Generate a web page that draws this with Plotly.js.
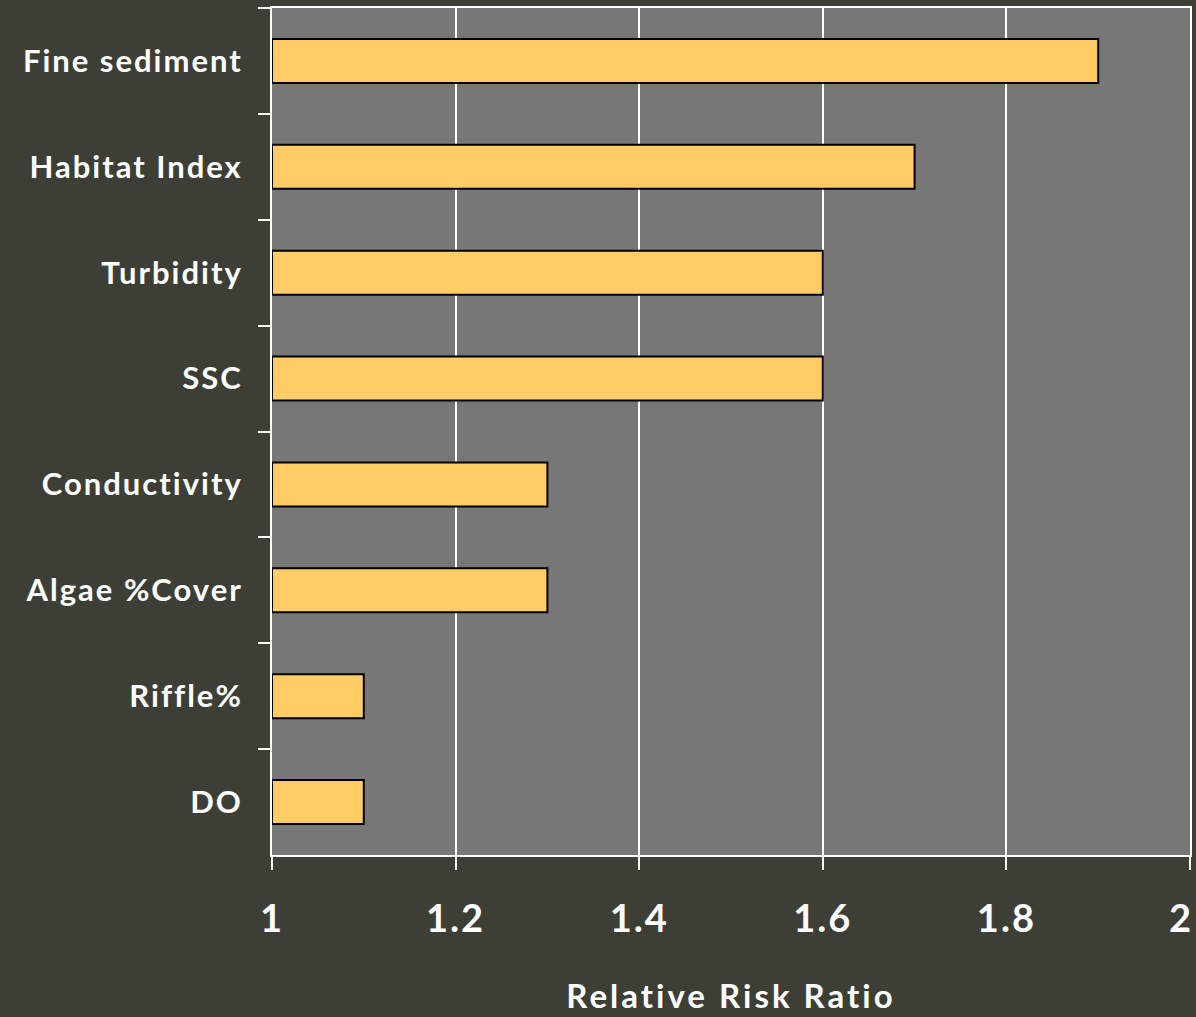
<!DOCTYPE html>
<html>
<head>
<meta charset="utf-8">
<script src="https://cdn.plot.ly/plotly-3.0.1.min.js"></script>
<style>
  html, body { margin: 0; padding: 0; background: #3d3f36; }
  #chart { width: 1196px; height: 1017px; }
  /* wider, airier lettering for the axis text */
  #chart .ytick text { letter-spacing: 2px; }
  #chart .xtick text { letter-spacing: 2px; }
  #chart .xtitle { letter-spacing: 3px; }
  /* pull the last x label in so it stays inside the page */
  #chart .xaxislayer-above .xtick:last-child { transform: translateX(-9px); }
</style>
</head>
<body>
<div id="chart"></div>
<script>
// Stressors, listed top to bottom
const stressors = ["Fine sediment", "Habitat Index", "Turbidity", "SSC",
                   "Conductivity", "Algae %Cover", "Riffle%", "DO"];
// Relative risk ratio for each stressor
const riskRatio = [1.9, 1.7, 1.6, 1.6, 1.3, 1.3, 1.1, 1.1];
// X axis ticks
const xTicks = [1, 1.2, 1.4, 1.6, 1.8, 2];
const xTickText = ["1", "1.2", "1.4", "1.6", "1.8", "2"];

const FONT = "Lato, 'Open Sans', sans-serif";

const trace = {
  type: "bar",
  orientation: "h",
  y: stressors,
  x: riskRatio.map(v => v - 1),
  base: 1,
  width: 0.415,
  marker: { color: "#ffcc66", line: { color: "#000000", width: 2 } },
  hoverinfo: "skip"
};

const layout = {
  width: 1196,
  height: 1017,
  paper_bgcolor: "#3d3f36",
  plot_bgcolor: "#777777",
  margin: { l: 272, r: 6, t: 8, b: 162 },
  showlegend: false,
  bargap: 0,
  xaxis: {
    range: [1, 2],
    tickvals: xTicks,
    ticktext: xTickText,
    showgrid: true,
    gridcolor: "#ffffff",
    gridwidth: 2,
    zeroline: false,
    showline: true,
    linecolor: "#ffffff",
    linewidth: 2,
    mirror: true,
    ticks: "outside",
    ticklen: 13,
    tickwidth: 2,
    tickcolor: "#ffffff",
    ticklabelstandoff: 16,
    ticklabeloverflow: "allow",
    tickfont: { family: FONT, size: 38, color: "#ffffff", weight: "bold" },
    title: {
      text: "Relative Risk Ratio",
      font: { family: FONT, size: 33, color: "#ffffff", weight: "bold" },
      standoff: 46
    },
    fixedrange: true
  },
  yaxis: {
    type: "category",
    autorange: "reversed",
    tickson: "boundaries",
    showgrid: false,
    zeroline: false,
    showline: true,
    linecolor: "#ffffff",
    linewidth: 2,
    mirror: true,
    ticks: "outside",
    ticklen: 12,
    tickwidth: 2,
    tickcolor: "#ffffff",
    ticklabelstandoff: 21,
    tickfont: { family: FONT, size: 31, color: "#ffffff", weight: "bold" },
    fixedrange: true
  }
};

Plotly.newPlot("chart", [trace], layout, { displayModeBar: false, staticPlot: true });
</script>
</body>
</html>
